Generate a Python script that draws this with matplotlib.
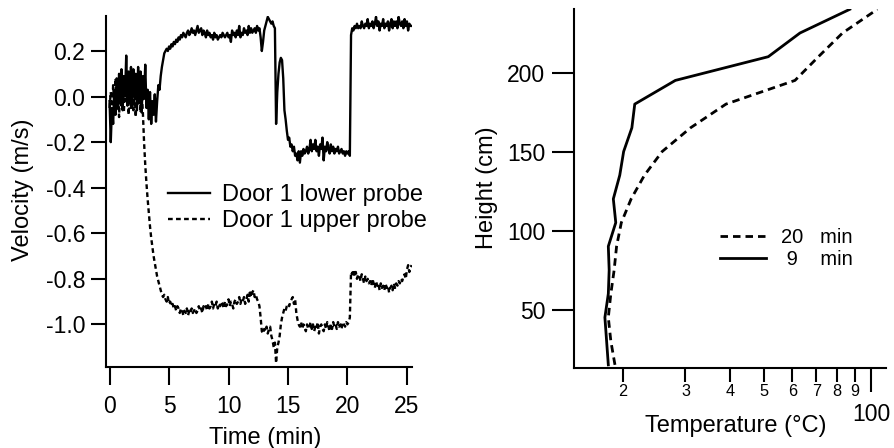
import numpy as np
import matplotlib
matplotlib.use("Agg")
import matplotlib.pyplot as plt
from matplotlib.ticker import FixedLocator, FixedFormatter

plt.rcParams['font.family'] = ['Liberation Sans', 'DejaVu Sans']
plt.rcParams['axes.unicode_minus'] = False

# ---------------- Door velocity record (sampled every 0.1 min) ----------------
SAMPLE_STEP_MIN = 0.1

# one row per minute, 10 samples each
lower_probe = [
    -0.02, -0.20, -0.05, -0.12, 0.03, -0.08, 0.08, -0.05, 0.10, -0.03,   # 0
    0.12, -0.06, 0.09, 0.00, 0.18, -0.04, 0.11, -0.02, 0.13, -0.05,      # 1
    0.12, 0.00, 0.10, -0.06, 0.13, -0.03, 0.11, -0.07, 0.09, -0.01,      # 2
    0.14, -0.05, 0.03, -0.10, 0.02, -0.12, -0.02, -0.08, 0.01, -0.11,    # 3
    -0.02, 0.05, 0.03, 0.09, 0.13, 0.16, 0.19, 0.20, 0.21, 0.20,         # 4
    0.22, 0.21, 0.23, 0.22, 0.24, 0.23, 0.25, 0.24, 0.26, 0.25,          # 5
    0.27, 0.26, 0.28, 0.27, 0.26, 0.28, 0.29, 0.27, 0.28, 0.30,          # 6
    0.28, 0.29, 0.27, 0.29, 0.31, 0.28, 0.29, 0.30, 0.27, 0.29,          # 7
    0.28, 0.26, 0.29, 0.27, 0.28, 0.26, 0.27, 0.25, 0.28, 0.26,          # 8
    0.27, 0.25, 0.26, 0.27, 0.26, 0.28, 0.27, 0.26, 0.27, 0.28,          # 9
    0.26, 0.27, 0.24, 0.29, 0.27, 0.28, 0.26, 0.29, 0.27, 0.31,          # 10
    0.26, 0.28, 0.27, 0.30, 0.28, 0.29, 0.27, 0.31, 0.28, 0.30,          # 11
    0.28, 0.29, 0.30, 0.28, 0.31, 0.29, 0.30, 0.26, 0.20, 0.24,          # 12
    0.29, 0.31, 0.33, 0.35, 0.34, 0.33, 0.32, 0.33, 0.31, 0.30,          # 13
    -0.12, 0.02, 0.10, 0.15, 0.17, 0.16, 0.08, -0.06, -0.10, -0.15,      # 14
    -0.19, -0.18, -0.22, -0.21, -0.24, -0.22, -0.26, -0.25, -0.28, -0.24,  # 15
    -0.29, -0.24, -0.26, -0.23, -0.25, -0.24, -0.22, -0.25, -0.23, -0.19,  # 16
    -0.24, -0.21, -0.23, -0.19, -0.24, -0.22, -0.26, -0.21, -0.23, -0.18,  # 17
    -0.28, -0.22, -0.24, -0.20, -0.23, -0.25, -0.21, -0.24, -0.22, -0.25,  # 18
    -0.23, -0.24, -0.22, -0.25, -0.24, -0.23, -0.25, -0.24, -0.26, -0.24,  # 19
    -0.25, -0.24, -0.26, 0.27, 0.30, 0.29, 0.31, 0.30, 0.32, 0.30,       # 20
    0.31, 0.30, 0.33, 0.31, 0.30, 0.32, 0.31, 0.34, 0.30, 0.32,          # 21
    0.31, 0.33, 0.30, 0.32, 0.35, 0.31, 0.33, 0.29, 0.32, 0.31,          # 22
    0.34, 0.30, 0.32, 0.31, 0.33, 0.29, 0.32, 0.34, 0.30, 0.33,          # 23
    0.31, 0.33, 0.30, 0.35, 0.32, 0.31, 0.33, 0.30, 0.34, 0.31,          # 24
    0.33, 0.29, 0.32, 0.31, 0.31,                                        # 25
]

upper_probe = [
    -0.05, 0.02, -0.08, 0.05, -0.03, 0.08, -0.06, 0.04, -0.09, 0.06,     # 0
    -0.04, 0.09, -0.07, 0.05, -0.02, 0.10, -0.08, 0.03, -0.05, 0.07,     # 1
    -0.06, 0.04, -0.09, 0.06, -0.03, 0.08, -0.07, 0.02, -0.07, -0.20,    # 2
    -0.30, -0.38, -0.45, -0.51, -0.57, -0.62, -0.66, -0.70, -0.73, -0.76,  # 3
    -0.79, -0.81, -0.83, -0.85, -0.87, -0.88, -0.87, -0.89, -0.90, -0.88,  # 4
    -0.91, -0.90, -0.92, -0.91, -0.93, -0.92, -0.94, -0.92, -0.93, -0.95,  # 5
    -0.93, -0.94, -0.96, -0.94, -0.95, -0.93, -0.96, -0.94, -0.95, -0.93,  # 6
    -0.95, -0.94, -0.93, -0.95, -0.94, -0.92, -0.94, -0.93, -0.95, -0.92,  # 7
    -0.93, -0.92, -0.94, -0.91, -0.93, -0.92, -0.90, -0.93, -0.91, -0.92,  # 8
    -0.90, -0.93, -0.91, -0.92, -0.90, -0.91, -0.93, -0.90, -0.92, -0.91,  # 9
    -0.89, -0.92, -0.90, -0.91, -0.93, -0.90, -0.89, -0.91, -0.90, -0.88,  # 10
    -0.91, -0.89, -0.90, -0.88, -0.91, -0.89, -0.87, -0.90, -0.85, -0.88,  # 11
    -0.86, -0.85, -0.88, -0.87, -0.89, -0.90, -0.92, -0.97, -1.03, -1.04,  # 12
    -1.02, -1.03, -1.01, -1.04, -1.02, -1.01, -1.05, -1.07, -1.10, -1.08,  # 13
    -1.17, -1.10, -1.08, -1.05, -1.00, -0.97, -0.95, -0.93, -0.94, -0.92,  # 14
    -0.91, -0.92, -0.90, -0.89, -0.88, -0.91, -0.89, -0.95, -0.98, -1.00,  # 15
    -1.01, -0.99, -1.02, -1.00, -1.01, -1.03, -1.00, -1.02, -1.01, -0.99,  # 16
    -1.02, -1.00, -1.03, -1.01, -1.02, -0.99, -1.04, -1.01, -1.00, -1.02,  # 17
    -1.03, -1.00, -1.02, -0.99, -1.01, -1.03, -1.00, -1.02, -0.99, -1.01,  # 18
    -1.00, -1.02, -0.99, -1.01, -1.00, -1.02, -0.99, -1.00, -1.01, -0.99,  # 19
    -1.00, -0.99, -0.97, -0.77, -0.78, -0.76, -0.79, -0.77, -0.80, -0.78,  # 20
    -0.79, -0.81, -0.78, -0.80, -0.82, -0.79, -0.81, -0.80, -0.82, -0.81,  # 21
    -0.83, -0.80, -0.82, -0.84, -0.81, -0.83, -0.82, -0.85, -0.82, -0.84,  # 22
    -0.83, -0.85, -0.82, -0.84, -0.83, -0.86, -0.84, -0.83, -0.85, -0.82,  # 23
    -0.84, -0.82, -0.83, -0.81, -0.82, -0.80, -0.81, -0.79, -0.78, -0.80,  # 24
    -0.76, -0.74, -0.77, -0.75, -0.74,                                   # 25
]

time_lower = np.arange(len(lower_probe)) * SAMPLE_STEP_MIN
time_upper = np.arange(len(upper_probe)) * SAMPLE_STEP_MIN

time_ticks = [0, 5, 10, 15, 20, 25]
velocity_ticks = [-1.0, -0.8, -0.6, -0.4, -0.2, 0.0, 0.2]

# ---------------- Vertical temperature profiles ----------------
heights_cm = [15, 30, 45, 60, 75, 90, 105, 120, 135, 150, 165, 180, 195, 210, 225, 240]
temp_9min = [18.2, 18.0, 17.8, 18.2, 18.3, 18.2, 19.1, 18.8, 19.6, 20.1, 21.2, 21.6,
             28.1, 51.3, 63.0, 87.0]
temp_20min = [19.0, 18.5, 18.2, 18.5, 18.9, 19.2, 19.8, 21.1, 23.0, 25.8, 31.0, 39.0,
              61.0, 71.0, 83.0, 104.0]

temp_minor_ticks = [20, 30, 40, 50, 60, 70, 80, 90]
temp_minor_labels = ['2', '3', '4', '5', '6', '7', '8', '9']
temp_major_ticks = [100]
temp_major_labels = ['100']
height_ticks = [50, 100, 150, 200]

# ---------------- Figure ----------------
W, H = 895, 448
fig = plt.figure(figsize=(W / 100, H / 100), dpi=100)

LW_SPINE = 1.5
FS = 16.5

# Left panel: velocity time series
ax1 = fig.add_axes([106 / W, 1 - 367 / H, 305.7 / W, 351.3 / H])
ax1.plot(time_lower, lower_probe, color='black', lw=1.7,
         label='Door 1 lower probe')
ax1.plot(time_upper, upper_probe, color='black', lw=1.7,
         linestyle=(0, (2.0, 1.4)), label='Door 1 upper probe')
ax1.set_xlim(-0.3, 25.4)
ax1.set_ylim(-1.187, 0.355)
ax1.set_xticks(time_ticks)
ax1.set_xticklabels([str(t) for t in time_ticks])
ax1.set_yticks(velocity_ticks)
ax1.set_yticklabels([f'{v:.1f}' for v in velocity_ticks])
for s in ('top', 'right'):
    ax1.spines[s].set_visible(False)
for s in ('left', 'bottom'):
    ax1.spines[s].set_linewidth(LW_SPINE)
ax1.tick_params(axis='x', direction='out', length=13, width=LW_SPINE, pad=7,
                labelsize=FS)
ax1.tick_params(axis='y', direction='out', length=11, width=LW_SPINE, pad=4,
                labelsize=FS)
ax1.set_xlabel('Time (min)', fontsize=17)
ax1.xaxis.set_label_coords(0.52, -0.170)
ax1.set_ylabel('Velocity (m/s)', fontsize=17)
ax1.yaxis.set_label_coords(-0.237, 0.504)
ax1.legend(loc='upper left', bbox_to_anchor=(0.204, 0.521), frameon=False,
           fontsize=17, handlelength=1.78, handletextpad=0.48,
           labelspacing=0.18, borderpad=0, borderaxespad=0)

# Right panel: temperature profiles on a log temperature axis
ax2 = fig.add_axes([574.3 / W, 1 - 368 / H, 311.7 / W, 358.7 / H])
ax2.plot(temp_20min, heights_cm, color='black', lw=2.0,
         linestyle=(0, (2.7, 1.8)), label='20   min')
ax2.plot(temp_9min, heights_cm, color='black', lw=2.0, label=' 9    min')
ax2.set_xscale('log')
ax2.set_xlim(14.6, 110)
ax2.set_ylim(13, 240)
ax2.xaxis.set_major_locator(FixedLocator(temp_major_ticks))
ax2.xaxis.set_major_formatter(FixedFormatter(temp_major_labels))
ax2.xaxis.set_minor_locator(FixedLocator(temp_minor_ticks))
ax2.xaxis.set_minor_formatter(FixedFormatter(temp_minor_labels))
ax2.set_yticks(height_ticks)
ax2.set_yticklabels([str(h) for h in height_ticks])
for s in ('top', 'right'):
    ax2.spines[s].set_visible(False)
for s in ('left', 'bottom'):
    ax2.spines[s].set_linewidth(LW_SPINE)
ax2.tick_params(axis='x', which='major', direction='out', length=17,
                width=LW_SPINE, pad=8.5, labelsize=FS)
ax2.tick_params(axis='x', which='minor', direction='out', length=10,
                width=LW_SPINE, pad=1.5, labelsize=11.7)
ax2.tick_params(axis='y', direction='out', length=16, width=LW_SPINE, pad=5,
                labelsize=FS)
ax2.set_xlabel('Temperature (°C)', fontsize=17)
ax2.xaxis.set_label_coords(0.518, -0.130)
ax2.set_ylabel('Height (cm)', fontsize=17)
ax2.yaxis.set_label_coords(-0.245, 0.503)
ax2.legend(loc='upper left', bbox_to_anchor=(0.4674, 0.389), frameon=False,
           fontsize=14.5, handlelength=2.3, handletextpad=0.74,
           labelspacing=0.12, borderpad=0, borderaxespad=0)

fig.savefig('out.png', dpi=100)
